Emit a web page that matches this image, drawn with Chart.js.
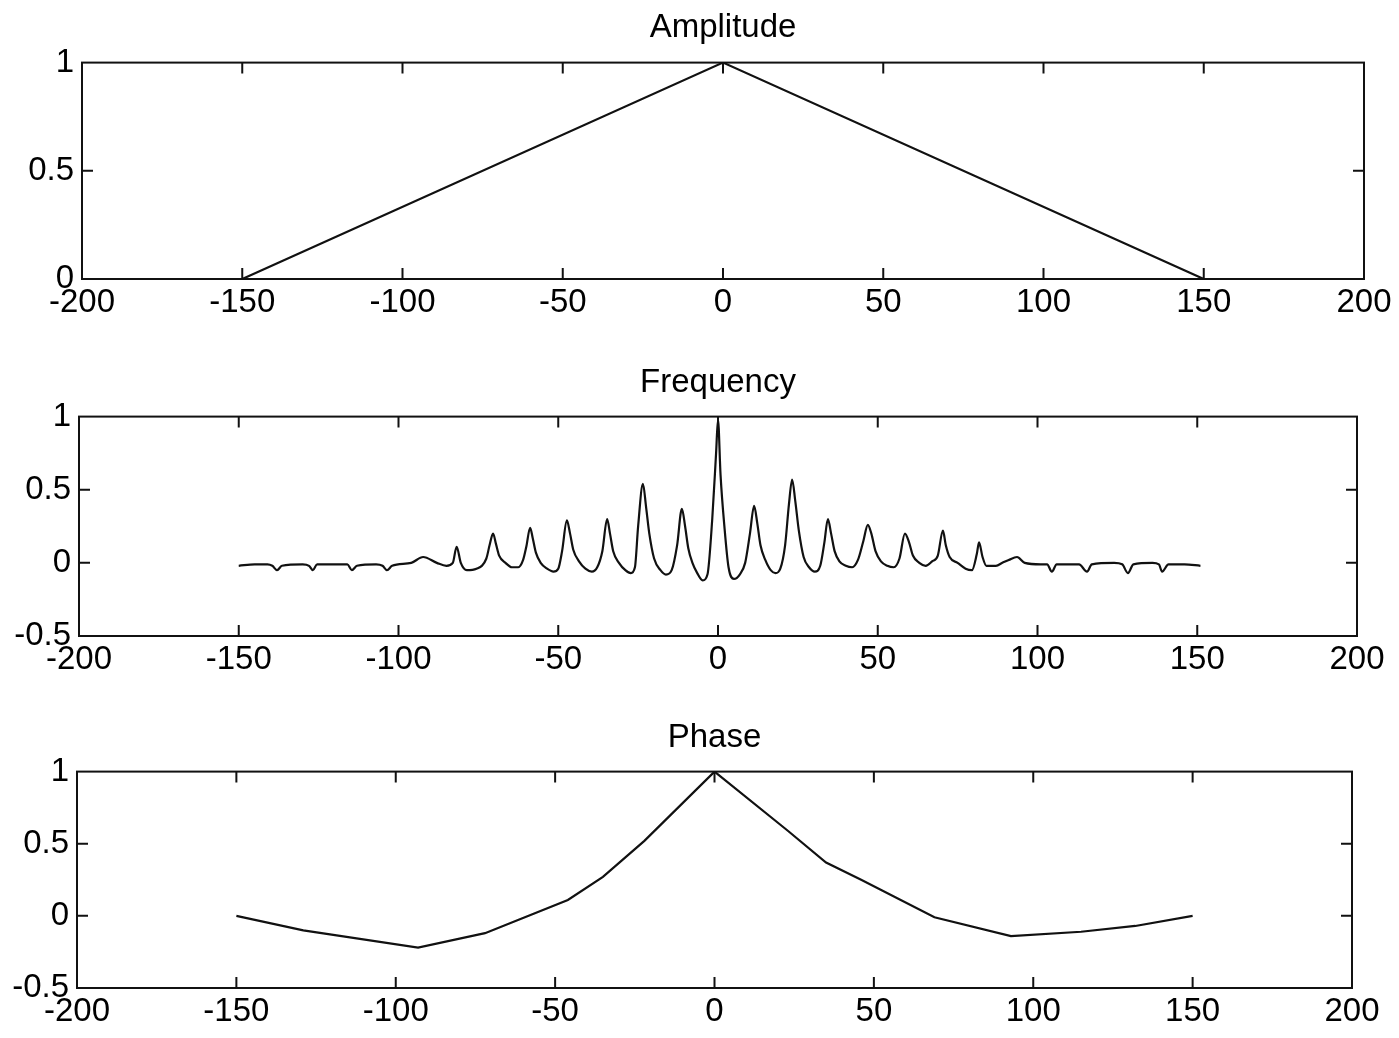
<!DOCTYPE html>
<html>
<head>
<meta charset="utf-8">
<title>Amplitude / Frequency / Phase</title>
<script src="https://cdn.jsdelivr.net/npm/chart.js@4.4.1/dist/chart.umd.min.js"></script>
<style>
  body { margin: 0; background: #fff; }
  canvas { position: absolute; left: 0; }
</style>
</head>
<body>
<canvas id="amp" width="1399" height="324" style="top:0px"></canvas>
<canvas id="freq" width="1399" height="326" style="top:355px"></canvas>
<canvas id="phase" width="1399" height="323" style="top:710px"></canvas>
<script>
// values
const ampX = [-150, 0, 150];
const ampY = [0, 1, 0];

const freqX = [-150, -145, -141, -139.5, -138, -136.5, -130, -128, -126.8, -125.5,
  -118, -116, -114.6, -113, -107, -105, -103.6, -102, -96, -92.3,
  -88, -85, -83, -81.8, -80.5, -78.6, -75.6, -72.5,
  -71.5, -70.4, -69.5, -68.5, -66.5, -64.5, -62.5, -61, -60, -58.8,
  -58, -57, -55.5, -53.5, -51.5, -50, -48.8, -47.3,
  -46.3, -45.3, -43.5, -41.5, -39.5, -37.8, -36.2, -34.7,
  -33.8, -32.8, -31, -29, -27.3, -26, -25, -23.5,
  -22.5, -21.5, -20, -18, -16.3, -14.5, -12.8, -11.3,
  -10.3, -9.3, -8, -6.5, -4.8, -3.3, -1.8, -0.6, 0,
  0.8, 2, 3.3, 5, 6.8, 8.5, 10, 11.3,
  12.3, 13.3, 14.8, 16.5, 18, 19.5, 21, 22.2, 23.2,
  24.2, 25.3, 26.8, 28.5, 30.3, 32, 33.3, 34.4,
  35.4, 36.5, 38, 40, 42, 43.8, 45.5, 46.9,
  48, 49.3, 51, 53, 55, 56.8, 58.5,
  59.8, 61, 63, 65, 67, 68.8, 70.4,
  71.3, 72.5, 75, 77.5, 79.5, 81, 81.7,
  82.8, 84, 87, 89, 91, 93.6, 96, 101, 103, 104.5,
  106, 113, 115.5, 117, 124, 126.5, 128.3, 130, 136, 138,
  139, 141, 146, 151];
const freqY = [-0.02, -0.01, -0.01, -0.02, -0.05, -0.02, -0.01, -0.02, -0.05, -0.01,
  -0.01, -0.01, -0.05, -0.02, -0.01, -0.02, -0.05, -0.02, 0.0, 0.04,
  0.0, -0.02, 0.0, 0.11, 0.0, -0.05, -0.04, 0.03,
  0.12, 0.20, 0.13, 0.05, 0.0, -0.03, -0.03, 0.02, 0.11, 0.24,
  0.17, 0.07, 0.0, -0.04, -0.06, -0.04, 0.08, 0.29,
  0.2, 0.09, 0.01, -0.04, -0.06, -0.03, 0.08, 0.30,
  0.2, 0.08, 0.0, -0.05, -0.07, -0.03, 0.25, 0.54,
  0.38, 0.2, 0.03, -0.05, -0.08, -0.05, 0.12, 0.37,
  0.25, 0.1, 0.0, -0.07, -0.12, -0.08, 0.3, 0.75, 0.98,
  0.6, 0.25, -0.03, -0.11, -0.08, 0.0, 0.2, 0.39,
  0.27, 0.12, 0.02, -0.05, -0.07, -0.04, 0.12, 0.4, 0.57,
  0.42, 0.22, 0.04, -0.03, -0.06, -0.02, 0.14, 0.30,
  0.2, 0.08, 0.01, -0.02, -0.03, 0.02, 0.15, 0.26,
  0.2, 0.08, 0.01, -0.02, -0.03, 0.03, 0.2,
  0.14, 0.05, 0.0, -0.02, 0.01, 0.05, 0.22,
  0.12, 0.04, 0.0, -0.04, -0.05, 0.06, 0.14,
  0.04, -0.02, -0.02, 0.0, 0.02, 0.04, 0.0, -0.01, -0.01, -0.06,
  -0.01, -0.01, -0.06, -0.01, 0.0, -0.01, -0.07, -0.01, 0.0, -0.01,
  -0.06, -0.01, -0.01, -0.02];

const phaseX = [-150, -129, -93, -72, -46, -35, -22, 0, 23, 35, 46, 69, 93, 115, 132, 150];
const phaseY = [0.0, -0.1, -0.22, -0.12, 0.11, 0.27, 0.52, 1.0, 0.59, 0.37, 0.25, -0.01, -0.14, -0.11, -0.07, 0.0];

const xTicks = { min: -200, max: 200, step: 50 };

const fontFamily = "'Liberation Sans', Arial, Helvetica, sans-serif";
const ink = '#111';

// matlab style box with inward tick marks on all four sides
const boxTicks = {
  id: 'boxTicks',
  afterDatasetsDraw(chart) {
    const ctx = chart.ctx;
    const a = chart.chartArea;
    const x = chart.scales.x;
    const y = chart.scales.y;
    const len = 11;
    ctx.save();
    ctx.strokeStyle = ink;
    ctx.lineWidth = 2;
    ctx.strokeRect(a.left, a.top, a.right - a.left, a.bottom - a.top);
    ctx.beginPath();
    x.ticks.forEach(t => {
      if (t.value <= x.min || t.value >= x.max) return;
      const px = x.getPixelForValue(t.value);
      ctx.moveTo(px, a.bottom); ctx.lineTo(px, a.bottom - len);
      ctx.moveTo(px, a.top); ctx.lineTo(px, a.top + len);
    });
    y.ticks.forEach(t => {
      if (t.value <= y.min || t.value >= y.max) return;
      const py = y.getPixelForValue(t.value);
      ctx.moveTo(a.left, py); ctx.lineTo(a.left + len, py);
      ctx.moveTo(a.right, py); ctx.lineTo(a.right - len, py);
    });
    ctx.stroke();
    ctx.restore();
  }
};

function makeChart(id, title, xs, ys, yMin, yMax, left, right, titleGap, smooth) {
  const ctx = document.getElementById(id).getContext('2d');
  return new Chart(ctx, {
    type: 'line',
    data: {
      datasets: [{
        data: xs.map((v, i) => ({ x: v, y: ys[i] })),
        borderColor: ink,
        borderWidth: 2.2,
        pointRadius: 0,
        tension: 0,
        cubicInterpolationMode: smooth ? 'monotone' : 'default',
        fill: false
      }]
    },
    options: {
      responsive: false,
      animation: false,
      events: [],
      layout: { padding: { left: 0, right: 1399 - right, top: 0, bottom: 0 } },
      plugins: {
        legend: { display: false },
        tooltip: { enabled: false },
        title: {
          display: true,
          text: title,
          fullSize: false,
          color: '#000',
          font: { family: fontFamily, size: 33, weight: 'normal' },
          padding: { top: 8, bottom: titleGap }
        }
      },
      scales: {
        x: {
          type: 'linear',
          min: xTicks.min,
          max: xTicks.max,
          grid: { display: false, drawTicks: false },
          border: { display: false },
          ticks: {
            stepSize: xTicks.step,
            padding: 4,
            maxRotation: 0,
            color: '#000',
            font: { family: fontFamily, size: 33 }
          },
          afterFit: s => { s.height = 45; }
        },
        y: {
          type: 'linear',
          min: yMin,
          max: yMax,
          grid: { display: false, drawTicks: false },
          border: { display: false },
          ticks: {
            stepSize: 0.5,
            padding: 8,
            color: '#000',
            font: { family: fontFamily, size: 33 },
            callback: v => String(v)
          },
          afterFit: s => { s.width = left; }
        }
      }
    },
    plugins: [boxTicks]
  });
}

makeChart('amp', 'Amplitude', ampX, ampY, 0, 1, 82, 1364, 15, false);
makeChart('freq', 'Frequency', freqX, freqY, -0.5, 1, 79, 1357, 14, true);
makeChart('phase', 'Phase', phaseX, phaseY, -0.5, 1, 77, 1352, 14, false);
</script>
</body>
</html>
